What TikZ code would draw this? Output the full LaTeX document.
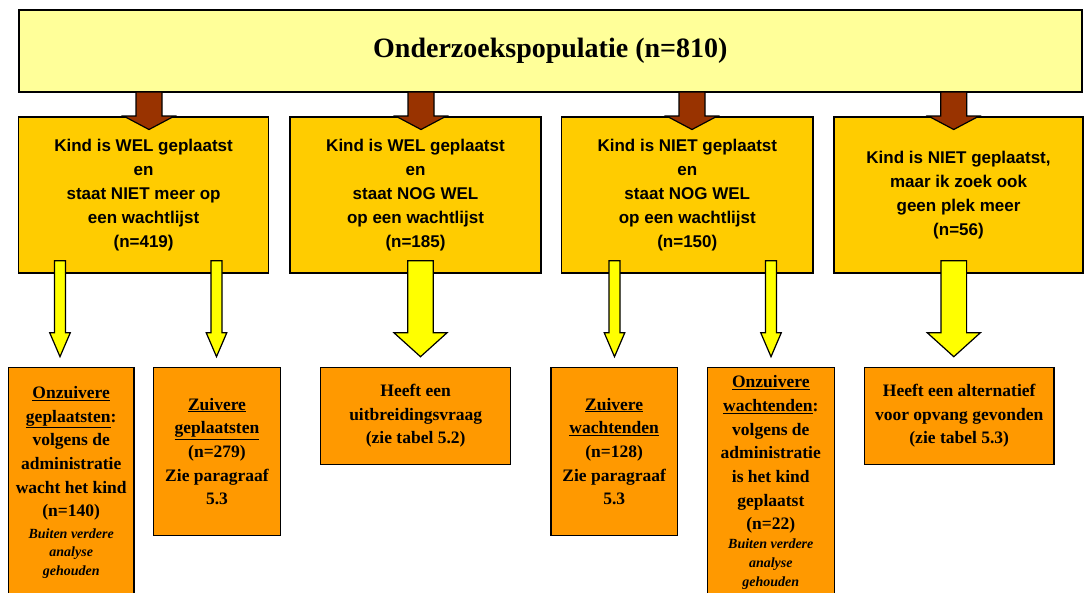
\documentclass[tikz,border=0pt]{standalone}
\usepackage{fontspec}
\setmainfont{Liberation Serif}
\setsansfont{Liberation Sans}
\usetikzlibrary{calc}
\definecolor{popyellow}{HTML}{FFFF99}
\definecolor{groupgold}{HTML}{FFCC00}
\definecolor{suborange}{HTML}{FF9900}
\definecolor{arrowbrown}{HTML}{993300}
\definecolor{arrowyellow}{HTML}{FFFF00}
\newcommand{\notetext}[1]{{\itshape\fontsize{14}{19}\selectfont #1}}

\begin{document}
\begin{tikzpicture}[x=1pt, y=-1pt,
  fatarrow/.style n args={3}{to path={
    let \p1=(\tikztostart), \p2=(\tikztotarget) in
    (\x1-#1pt,\y1) -- (\x1+#1pt,\y1) -- (\x1+#1pt,\y2+#3pt) -- (\x1+#2pt,\y2+#3pt)
    -- (\x2,\y2) -- (\x1-#2pt,\y2+#3pt) -- (\x1-#1pt,\y2+#3pt) -- cycle}},
  brownarrow/.style={fatarrow={13}{25.5}{13.5}, fill=arrowbrown, draw, line width=1.2pt, line join=miter},
  thinarrow/.style={fatarrow={5.5}{10.3}{24}, fill=arrowyellow, draw, line width=1.2pt},
  widearrow/.style={fatarrow={12.8}{26.6}{24}, fill=arrowyellow, draw, line width=1.2pt},
  topbox/.style={draw, line width=1.6pt, fill=popyellow, inner sep=0pt,
    font=\bfseries\fontsize{28}{34}\selectfont},
  groupbox/.style={draw, line width=1.5pt, fill=groupgold, inner sep=0pt, align=center,
    minimum width=250pt, minimum height=155.7pt,
    font=\sffamily\bfseries\fontsize{17}{24}\selectfont},
  subbox/.style={draw, line width=1.5pt, fill=suborange, inner sep=0pt, align=center,
    font=\bfseries\fontsize{17.5}{23.7}\selectfont}
]
\useasboundingbox (0,0) rectangle (1084,592);
\clip (0,0) rectangle (1084,592);

% population
\node[topbox, minimum width=1063pt, minimum height=82pt] (pop) at (550.3,51) {Onderzoekspopulatie (n=810)};

% four groups
\node[groupbox] (wel1) at (143.6,194.9) {Kind is WEL geplaatst\\en\\staat NIET meer op\\een wachtlijst\\(n=419)};
\node[groupbox, minimum width=251pt] (wel2) at (415.5,194.9) {Kind is WEL geplaatst\\en\\staat NOG WEL\\op een wachtlijst\\(n=185)};
\node[groupbox, minimum width=251.5pt] (niet1) at (687.3,194.9) {Kind is NIET geplaatst\\en\\staat NOG WEL\\op een wachtlijst\\(n=150)};
\node[groupbox, minimum width=249pt] (niet2) at (958.5,194.9) {Kind is NIET geplaatst,\\maar ik zoek ook\\geen plek meer\\(n=56)};

% outcomes
\node[subbox, minimum width=125.7pt, minimum height=230pt] (onzgepl) at (71.2,482.3)
  {\underline{Onzuivere}\\\underline{geplaatsten}:\\volgens de\\administratie\\wacht het kind\\(n=140)\\[-2.5pt]
   \notetext{Buiten verdere}\\[-5pt]\notetext{analyse}\\[-5pt]\notetext{gehouden}};
\node[subbox, minimum width=127.4pt, minimum height=168.4pt] (zgepl) at (217,451.5)
  {\underline{Zuivere}\\\underline{geplaatsten}\\(n=279)\\Zie paragraaf\\5.3};
\node[subbox, minimum width=190pt, minimum height=97pt] (uitbr) at (415.7,415.8)
  {Heeft een\\uitbreidingsvraag\\(zie tabel 5.2)};
\node[subbox, minimum width=126.3pt, minimum height=168.4pt] (zwacht) at (614.2,451.5)
  {\underline{Zuivere}\\\underline{wachtenden}\\(n=128)\\Zie paragraaf\\5.3};
\node[subbox, minimum width=127pt, minimum height=230pt] (onzwacht) at (770.8,482.3)
  {\underline{Onzuivere}\\\underline{wachtenden}:\\volgens de\\administratie\\is het kind\\geplaatst\\(n=22)\\[-5pt]
   \notetext{Buiten verdere}\\[-5pt]\notetext{analyse}\\[-5pt]\notetext{gehouden}};
\node[subbox, minimum width=189.7pt, minimum height=97pt] (alt) at (959.2,415.8)
  {Heeft een alternatief\\voor opvang gevonden\\(zie tabel 5.3)};

% arrow ends
\coordinate (pop1) at (149,92);   \coordinate (in1) at (149,129.5);
\coordinate (pop2) at (421,92);   \coordinate (in2) at (421,129.5);
\coordinate (pop3) at (692,92);   \coordinate (in3) at (692,129.5);
\coordinate (pop4) at (953.7,92); \coordinate (in4) at (953.7,129.5);
\coordinate (out1) at (60,260.7);    \coordinate (to1) at (60,356.7);
\coordinate (out2) at (216.5,260.7); \coordinate (to2) at (216.5,356.7);
\coordinate (out3) at (420.5,260.7); \coordinate (to3) at (420.5,356.7);
\coordinate (out4) at (614.5,260.7); \coordinate (to4) at (614.5,356.7);
\coordinate (out5) at (771,260.7);   \coordinate (to5) at (771,356.7);
\coordinate (out6) at (953.8,260.7); \coordinate (to6) at (953.8,356.7);

\draw[brownarrow] (pop1) to (in1);
\draw[brownarrow] (pop2) to (in2);
\draw[brownarrow] (pop3) to (in3);
\draw[brownarrow] (pop4) to (in4);

\draw[thinarrow] (out1) to (to1);
\draw[thinarrow] (out2) to (to2);
\draw[widearrow] (out3) to (to3);
\draw[thinarrow] (out4) to (to4);
\draw[thinarrow] (out5) to (to5);
\draw[widearrow] (out6) to (to6);
\end{tikzpicture}
\end{document}
